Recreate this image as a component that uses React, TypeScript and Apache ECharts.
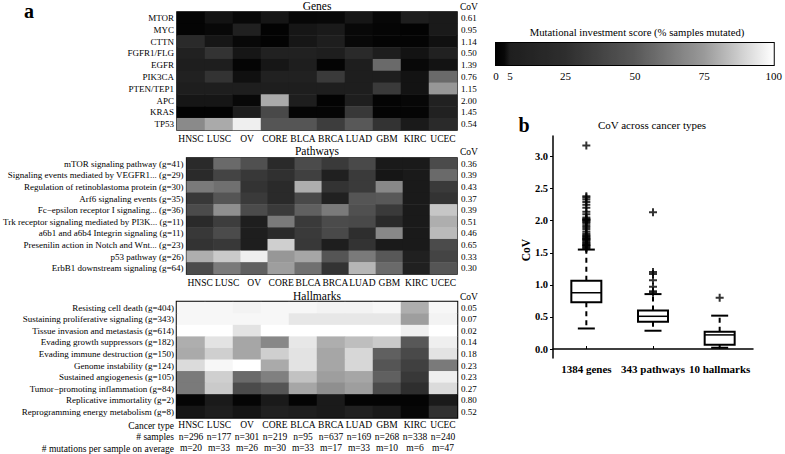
import React, { useEffect, useRef } from "react";
import * as echarts from "echarts";

const FONT = "Liberation Serif, Times New Roman, serif";

const cancerTypes = ["HNSC", "LUSC", "OV", "CORE", "BLCA", "BRCA", "LUAD", "GBM", "KIRC", "UCEC"];
const sampleCounts = [296, 177, 301, 219, 95, 637, 169, 268, 338, 240];
const mutationsPerSample = [20, 33, 26, 30, 33, 17, 33, 10, 6, 47];

const genes = ["MTOR", "MYC", "CTTN", "FGFR1/FLG", "EGFR", "PIK3CA", "PTEN/TEP1", "APC", "KRAS", "TP53"];
const geneCoV = [0.61, 0.95, 1.14, 0.5, 1.39, 0.76, 1.15, 2.0, 1.45, 0.54];
const geneScores = [
  [1.5, 4, 3, 4.3, 2.5, 3, 4.3, 2.5, 5, 4.6],
  [1.5, 3, 7.5, 1, 4.3, 4.6, 3, 2, 1, 4.6],
  [20, 4.3, 3, 1, 4.3, 5, 3, 1.5, 1.5, 3.7],
  [9, 28, 4.3, 9, 9, 5, 20, 5, 4, 9],
  [5, 5, 2, 4.3, 5, 1.5, 5, 57, 3, 4],
  [9, 28, 3.7, 9, 9, 32, 5, 5, 4, 57],
  [5, 5, 5, 5, 5, 5, 5, 32, 4, 74],
  [4.3, 4.3, 3, 79, 5, 1, 5, 1.5, 2.5, 9],
  [1, 1, 5, 41, 2, 2, 31, 1.5, 2, 9],
  [69, 79, 96, 48, 48, 34, 50, 28, 4.6, 20],
];

const pathways = [
  "mTOR signaling pathway (g=41)",
  "Signaling events mediated by VEGFR1... (g=29)",
  "Regulation of retinoblastoma protein (g=30)",
  "Arf6 signaling events (g=35)",
  "Fc\u2212epsilon receptor I signaling... (g=36)",
  "Trk receptor signaling mediated by PI3K... (g=11)",
  "a6b1 and a6b4 Integrin signaling (g=11)",
  "Presenilin action in Notch and Wnt... (g=23)",
  "p53 pathway (g=26)",
  "ErbB1 downstream signaling (g=64)",
];
const pathwayCoV = [0.36, 0.39, 0.43, 0.37, 0.39, 0.51, 0.46, 0.65, 0.33, 0.3];
const pathwayScores = [
  [20, 57, 45, 20, 42, 32, 41, 4.6, 4.6, 42],
  [20, 38, 31, 26, 36, 7.5, 32, 4.3, 4.6, 57],
  [63, 59, 28, 20, 80, 28, 32, 68, 4.6, 32],
  [31, 48, 32, 20, 41, 9, 48, 50, 4.6, 28],
  [42, 71, 42, 32, 53, 63, 45, 32, 4.6, 86],
  [20, 34, 5, 63, 32, 42, 41, 20, 4.6, 80],
  [31, 42, 5, 20, 32, 41, 25, 68, 4.6, 83],
  [28, 31, 5, 88, 31, 5, 28, 4.6, 4.6, 42],
  [80, 87, 96, 74, 78, 48, 63, 50, 7.5, 38],
  [42, 63, 53, 76, 59, 28, 82, 57, 7.5, 48],
];

const hallmarks = [
  "Resisting cell death (g=404)",
  "Sustaining proliferative signaling (g=343)",
  "Tissue invasion and metastasis (g=614)",
  "Evading growth suppressors (g=182)",
  "Evading immune destruction (g=150)",
  "Genome instability (g=124)",
  "Sustained angiogenesis (g=105)",
  "Tumor\u2212promoting inflammation (g=84)",
  "Replicative immortality (g=2)",
  "Reprogramming energy metabolism (g=8)",
];
const hallmarkCoV = [0.05, 0.07, 0.02, 0.14, 0.18, 0.23, 0.23, 0.27, 0.8, 0.52];
const hallmarkScores = [
  [98, 98, 97, 98, 98, 97, 97, 98, 80, 98],
  [98, 98, 98, 98, 94, 94, 94, 94, 76, 97],
  [100, 100, 93, 100, 100, 100, 100, 100, 96, 100],
  [80, 93, 78, 68, 94, 80, 84, 87, 50, 96],
  [79, 88, 78, 88, 93, 78, 90, 53, 41, 93],
  [91, 98, 100, 79, 93, 78, 90, 48, 36, 63],
  [63, 88, 57, 65, 85, 76, 78, 53, 31, 96],
  [63, 87, 42, 48, 78, 71, 76, 42, 25, 91],
  [2, 4.6, 2, 4.6, 1.5, 4.6, 1.5, 1.5, 1.5, 4.6],
  [4.3, 5, 4.2, 9, 5, 4.6, 9, 4.6, 2.5, 26],
];

const colorbarTicks = [0, 5, 25, 50, 75, 100];
const colorbarInnerTicks = [5, 25, 50, 75];

const boxCategories = ["1384 genes", "343 pathways", "10 hallmarks"];
const boxLow = [0.32, 0.285, 0.02];
const boxQ1 = [0.73, 0.425, 0.067];
const boxMedian = [0.877, 0.51, 0.22];
const boxQ3 = [1.065, 0.6, 0.27];
const boxHigh = [1.55, 0.856, 0.52];
const geneOutliers = [
  1.57, 1.58, 1.6, 1.61, 1.62, 1.63, 1.65, 1.66, 1.68, 1.7, 1.71, 1.72, 1.73, 1.75, 1.76, 1.78,
  1.8, 1.83, 1.87, 1.9, 1.93, 1.96, 1.98, 2.0, 2.01, 2.02, 2.03, 2.05, 2.1, 2.14, 2.2, 2.25,
  2.29, 2.33, 2.36, 2.38, 3.17,
];
const pathwayOutliers = [0.88, 0.9, 0.97, 1.07, 1.17, 1.2, 2.13];
const hallmarkOutliers = [0.8];
const boxYTicks = [0, 0.5, 1, 1.5, 2, 2.5, 3];

// grey-level colormap (value 0..100 -> grey 0..255)
const cmapStops: [number, number][] = [
  [0, 0], [3, 8], [5, 30], [25, 46], [50, 88], [75, 154], [100, 255],
];
function greyOf(v: number): number {
  for (let i = 1; i < cmapStops.length; i++) {
    const [v1, g1] = cmapStops[i];
    const [v0, g0] = cmapStops[i - 1];
    if (v <= v1) return g0 + ((v - v0) / (v1 - v0)) * (g1 - g0);
  }
  return 255;
}
function hexGrey(g: number): string {
  const h = Math.round(Math.max(0, Math.min(255, g))).toString(16).padStart(2, "0");
  return "#" + h + h + h;
}
const cmapColors = Array.from({ length: 101 }, (_, i) => hexGrey(greyOf(i)));

function toCells(m: number[][]) {
  const out: number[][] = [];
  m.forEach((row, r) => row.forEach((v, c) => out.push([c, r, v])));
  return out;
}

export default function App() {
  const ref = useRef<HTMLDivElement>(null);
  useEffect(() => {
    document.body.style.margin = "0";
    const chart = echarts.init(ref.current!, null, { renderer: "svg" });

    const heatLeft = 177;
    const heatWidth = 280;
    const grids = [
      { left: heatLeft, top: 12, width: heatWidth, height: 118 },
      { left: heatLeft, top: 158, width: heatWidth, height: 116 },
      { left: heatLeft, top: 302, width: heatWidth, height: 116 },
      { left: 496, top: 43, width: 281, height: 22 },
      { left: 553, top: 136, width: 200, height: 222 },
    ].map((g, i) => ({
      ...g,
      show: i < 4,
      borderColor: "#000",
      borderWidth: i === 2 ? 2.5 : i === 3 ? 2 : 1.5,
      backgroundColor: "transparent",
      containLabel: false,
    }));

    const heatX = (gridIndex: number, extra: any = {}) => ({
      type: "category",
      gridIndex,
      data: cancerTypes,
      position: "bottom",
      axisLine: { show: false },
      axisTick: { show: true, inside: true, length: 3, alignWithLabel: true, lineStyle: { color: "#000" } },
      axisLabel: { color: "#000", fontSize: 9.5, fontFamily: FONT, margin: 4, interval: 0 },
      splitLine: { show: false },
      ...extra,
    });
    const heatXTop = (gridIndex: number) => ({
      type: "category",
      gridIndex,
      data: cancerTypes,
      position: "top",
      axisLine: { show: false },
      axisTick: { show: true, inside: true, length: 3, alignWithLabel: true, lineStyle: { color: "#000" } },
      axisLabel: { show: false },
      splitLine: { show: false },
    });
    const heatYLeft = (gridIndex: number, rows: string[]) => ({
      type: "category",
      gridIndex,
      data: rows,
      inverse: true,
      position: "left",
      axisLine: { show: false },
      axisTick: { show: true, inside: true, length: 3, alignWithLabel: true, lineStyle: { color: "#000" } },
      axisLabel: { color: "#000", fontSize: 9, fontFamily: FONT, margin: 3, interval: 0 },
      splitLine: { show: false },
    });
    const heatYRight = (gridIndex: number, cov: number[]) => ({
      type: "category",
      gridIndex,
      data: cov.map((_, i) => "r" + i),
      inverse: true,
      position: "right",
      axisLine: { show: false },
      axisTick: { show: true, inside: true, length: 3, alignWithLabel: true, lineStyle: { color: "#000" } },
      axisLabel: {
        color: "#000",
        fontSize: 9,
        fontFamily: FONT,
        margin: 4,
        interval: 0,
        formatter: (_v: string, i: number) => cov[i].toFixed(2),
      },
      splitLine: { show: false },
    });

    const plusSymbol = "path://M3,0H5V3H8V5H5V8H3V5H0V3H3Z";

    const txt = (text: string, x: number, y: number, size: number, opts: any = {}) => ({
      type: "text",
      x,
      y,
      rotation: opts.rotation || 0,
      silent: true,
      style: {
        text,
        fill: "#000",
        fontSize: size,
        fontFamily: FONT,
        fontWeight: opts.bold ? "bold" : "normal",
        textAlign: opts.align || "center",
        align: opts.align || "center",
        textVerticalAlign: "middle",
        verticalAlign: "middle",
      },
    });

    const option: any = {
      animation: false,
      backgroundColor: "#fff",
      textStyle: { fontFamily: FONT },
      grid: grids,
      visualMap: {
        type: "continuous",
        show: false,
        min: 0,
        max: 100,
        seriesIndex: [0, 1, 2],
        inRange: { color: cmapColors },
      },
      xAxis: [
        heatX(0),
        heatX(1),
        heatX(2, {
          axisLabel: {
            color: "#000",
            fontSize: 9.5,
            fontFamily: FONT,
            margin: 2,
            interval: 0,
            lineHeight: 11.5,
            formatter: (v: string, i: number) =>
              `${v}\nn=${sampleCounts[i]}\nm=${mutationsPerSample[i]}`,
          },
        }),
        {
          type: "value",
          gridIndex: 3,
          min: 0,
          max: 100,
          position: "bottom",
          axisLine: { show: false },
          axisTick: { show: true, inside: true, length: 3, customValues: colorbarInnerTicks, lineStyle: { color: "#000" } },
          axisLabel: { color: "#000", fontSize: 11, fontFamily: FONT, margin: 5, customValues: colorbarTicks, showMinLabel: true, showMaxLabel: true },
          splitLine: { show: false },
        },
        {
          type: "value",
          gridIndex: 3,
          min: 0,
          max: 100,
          position: "top",
          axisLine: { show: false },
          axisTick: { show: true, inside: true, length: 3, customValues: colorbarInnerTicks, lineStyle: { color: "#000" } },
          axisLabel: { show: false },
          splitLine: { show: false },
        },
        {
          type: "category",
          gridIndex: 4,
          data: boxCategories,
          position: "bottom",
          axisLine: { show: true, lineStyle: { color: "#000", width: 1.5 } },
          axisTick: { show: true, inside: true, length: 3, alignWithLabel: true, lineStyle: { color: "#000" } },
          axisLabel: { color: "#000", fontSize: 11, fontWeight: "bold", fontFamily: FONT, margin: 5, interval: 0 },
          splitLine: { show: false },
        },
        heatXTop(1),
        heatXTop(2),
      ],
      yAxis: [
        heatYLeft(0, genes),
        heatYRight(0, geneCoV),
        heatYLeft(1, pathways),
        heatYRight(1, pathwayCoV),
        heatYLeft(2, hallmarks),
        heatYRight(2, hallmarkCoV),
        { type: "value", gridIndex: 3, min: 0, max: 1, show: false },
        {
          type: "value",
          gridIndex: 4,
          min: -0.14,
          max: 3.32,
          axisLine: { show: true, lineStyle: { color: "#000", width: 1.5 } },
          axisTick: { show: true, length: 3, customValues: boxYTicks, lineStyle: { color: "#000" } },
          axisLabel: {
            color: "#000",
            fontSize: 10.5,
            fontWeight: "bold",
            fontFamily: FONT,
            margin: 5,
            customValues: boxYTicks,
            formatter: (v: number) => v.toFixed(1),
          },
          splitLine: { show: false },
        },
      ],
      series: [
        { type: "heatmap", xAxisIndex: 0, yAxisIndex: 0, data: toCells(geneScores), itemStyle: { borderWidth: 0 } },
        { type: "heatmap", xAxisIndex: 1, yAxisIndex: 2, data: toCells(pathwayScores), itemStyle: { borderWidth: 0 } },
        { type: "heatmap", xAxisIndex: 2, yAxisIndex: 4, data: toCells(hallmarkScores), itemStyle: { borderWidth: 0 } },
        {
          type: "custom",
          xAxisIndex: 3,
          yAxisIndex: 6,
          data: [[0, 0]],
          silent: true,
          renderItem: (_p: any, api: any) => {
            const a = api.coord([0, 0]);
            const b = api.coord([100, 1]);
            return {
              type: "rect",
              shape: { x: a[0], y: b[1], width: b[0] - a[0], height: a[1] - b[1] },
              style: {
                fill: new echarts.graphic.LinearGradient(
                  0, 0, 1, 0,
                  cmapColors.map((c, i) => ({ offset: i / 100, color: c }))
                ),
              },
            };
          },
        },
        {
          type: "custom",
          xAxisIndex: 5,
          yAxisIndex: 7,
          silent: true,
          encode: { x: 0, y: [1, 2, 3, 4, 5] },
          data: boxCategories.map((_, i) => [i, boxLow[i], boxQ1[i], boxMedian[i], boxQ3[i], boxHigh[i]]),
          renderItem: (_p: any, api: any) => {
            const i = api.value(0);
            const x = api.coord([i, api.value(3)])[0];
            const yLow = api.coord([i, api.value(1)])[1];
            const yQ1 = api.coord([i, api.value(2)])[1];
            const yMed = api.coord([i, api.value(3)])[1];
            const yQ3 = api.coord([i, api.value(4)])[1];
            const yHigh = api.coord([i, api.value(5)])[1];
            const bw = 15;
            const cw = 8.5;
            const solid = { stroke: "#000", lineWidth: 2 };
            const dashed = { stroke: "#000", lineWidth: 2, lineDash: [5, 4] };
            return {
              type: "group",
              children: [
                { type: "line", shape: { x1: x, y1: yQ3, x2: x, y2: yHigh }, style: dashed },
                { type: "line", shape: { x1: x, y1: yQ1, x2: x, y2: yLow }, style: dashed },
                { type: "line", shape: { x1: x - cw, y1: yHigh, x2: x + cw, y2: yHigh }, style: solid },
                { type: "line", shape: { x1: x - cw, y1: yLow, x2: x + cw, y2: yLow }, style: solid },
                { type: "rect", shape: { x: x - bw, y: yQ3, width: 2 * bw, height: yQ1 - yQ3 }, style: { fill: "#fff", stroke: "#000", lineWidth: 2 } },
                { type: "line", shape: { x1: x - bw, y1: yMed, x2: x + bw, y2: yMed }, style: { stroke: "#000", lineWidth: 1.5 } },
              ],
            };
          },
        },
        {
          type: "scatter",
          xAxisIndex: 5,
          yAxisIndex: 7,
          silent: true,
          symbol: plusSymbol,
          symbolSize: 8,
          itemStyle: { color: "#000" },
          z: 5,
          data: [
            ...geneOutliers.map((v) => [0, v]),
            ...pathwayOutliers.map((v) => [1, v]),
            ...hallmarkOutliers.map((v) => [2, v]),
          ],
        },
      ],
      graphic: [
        txt("a", 29, 11, 20, { bold: true }),
        txt("b", 524, 125, 20, { bold: true }),
        txt("Genes", 317, 6, 11.5),
        txt("Pathways", 317, 151, 11.5),
        txt("Hallmarks", 317, 296, 11.5),
        txt("CoV", 460, 7, 9.5, { align: "left" }),
        txt("CoV", 460, 152, 9.5, { align: "left" }),
        txt("CoV", 460, 297, 9.5, { align: "left" }),
        txt("Cancer type", 174, 425.5, 9.5, { align: "right" }),
        txt("# samples", 174, 437, 9.5, { align: "right" }),
        txt("# mutations per sample on average", 174, 448.5, 9.5, { align: "right" }),
        txt("Mutational investment score (% samples mutated)", 637, 32, 10.7),
        txt("CoV across cancer types", 652, 125, 11),
        txt("CoV", 526, 250, 11.5, { bold: true, rotation: Math.PI / 2 }),
      ],
    };

    chart.setOption(option);
    return () => chart.dispose();
  }, []);

  return (
    <div
      ref={ref}
      style={{ position: "absolute", left: 0, top: 0, width: 785, height: 454, background: "#fff" }}
    />
  );
}
